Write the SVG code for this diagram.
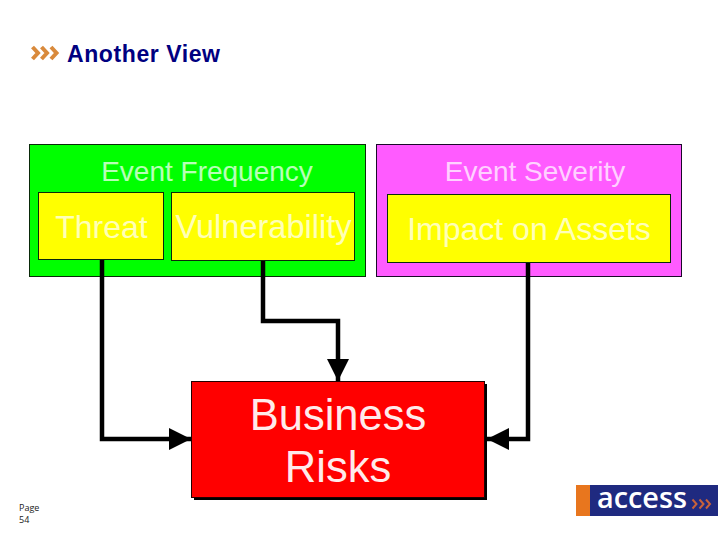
<svg xmlns="http://www.w3.org/2000/svg" width="720" height="540" viewBox="0 0 720 540">
<style>
text{font-family:"Liberation Sans",Arial,sans-serif;text-anchor:middle}
.box{stroke:#0a2a0a;stroke-width:1}
.lbl{fill:#fff;opacity:.72}
.yellow{fill:#ffff00}
.conn{fill:none;stroke:#000;stroke-width:4.500}
.chev{fill:none;stroke-width:4}
</style>
<defs>
<marker id="arrow" markerUnits="userSpaceOnUse" markerWidth="24" markerHeight="24" refX="22" refY="12" orient="auto"><path d="M0 1L22 12L0 23Z" fill="#000"/></marker>
</defs>
<rect width="720" height="540" fill="#fff"/>
<g id="title">
<path class="chev" stroke="#d98a3c" d="M32.500 47l5.500 6l-5.500 6M41.500 47l5.500 6l-5.500 6M51 47l5.500 6l-5.500 6"/>
<text x="143.500" y="61.500" font-size="23" font-weight="700" fill="#000080" textLength="153" lengthAdjust="spacing">Another View</text>
</g>
<g id="event-frequency">
<rect class="box" x="29.500" y="144.500" width="336" height="132" fill="#00ff00"/>
<text class="lbl" x="207" y="181" font-size="28">Event Frequency</text>
</g>
<g id="threat">
<rect class="box yellow" x="38.500" y="192.500" width="125" height="67"/>
<text class="lbl" x="101.500" y="238" font-size="32">Threat</text>
</g>
<g id="vulnerability">
<rect class="box yellow" x="171.500" y="192.500" width="183" height="68"/>
<text class="lbl" x="263.500" y="238" font-size="32.500">Vulnerability</text>
</g>
<g id="event-severity">
<rect x="376.500" y="144.500" width="305" height="132" fill="#ff5bff" stroke="#1a0a2a"/>
<text class="lbl" x="535" y="181" font-size="28">Event Severity</text>
</g>
<g id="impact">
<rect class="box yellow" x="387.500" y="194.500" width="283" height="68"/>
<text class="lbl" x="529" y="240" font-size="32">Impact on Assets</text>
</g>
<g id="connectors">
<path class="conn" marker-end="url(#arrow)" d="M102 260V439H191"/>
<path class="conn" marker-end="url(#arrow)" d="M263 261V321H338V381"/>
<path class="conn" marker-end="url(#arrow)" d="M528 263V439H487"/>
</g>
<g id="business-risks">
<rect x="194" y="384" width="293" height="116" fill="#000"/>
<rect x="191.500" y="381.500" width="293" height="116" fill="#ff0000" stroke="#200"/>
<text x="338" y="430" font-size="43.500" fill="#fff" opacity=".92">Business</text>
<text x="338" y="482" font-size="43.500" fill="#fff" opacity=".92">Risks</text>
</g>
<g id="page">
<text x="19" y="511" font-size="9" fill="#222" style="text-anchor:start;font-family:'Open Sans',sans-serif">Page</text>
<text x="19" y="523" font-size="9" fill="#222" style="text-anchor:start;font-family:'Open Sans',sans-serif">54</text>
</g>
<g id="logo">
<rect x="576" y="485" width="142" height="31" fill="#1f2a80"/>
<rect x="576" y="485" width="14" height="31" fill="#e8761e"/>
<text x="642" y="508" font-size="28" font-weight="600" fill="#fff" textLength="90" lengthAdjust="spacingAndGlyphs" style="font-family:'Open Sans',sans-serif">access</text>
<path class="chev" style="stroke-width:2" stroke="#c8623a" d="M692.500 499.500l4 4.500l-4 4.500M699.500 499.500l4 4.500l-4 4.500M706 499.500l4 4.500l-4 4.500"/>
</g>
</svg>
